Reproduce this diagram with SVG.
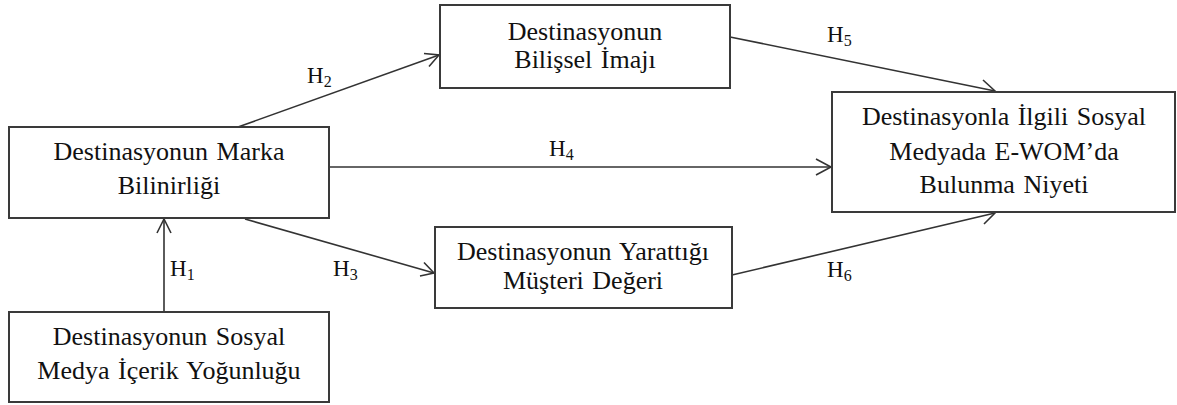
<svg xmlns="http://www.w3.org/2000/svg" width="1177" height="405" viewBox="0 0 1177 405">
<style>
.box{fill:#fff;stroke:#3a3a3a;stroke-width:2}
.t{font-family:"Liberation Serif","Times New Roman",serif;font-size:26px;fill:#111;text-anchor:middle;word-spacing:2px}
.h{font-family:"Liberation Serif","Times New Roman",serif;font-size:23px;fill:#111}
.s{font-size:16px}
.c{stroke:#333;stroke-width:1.6;fill:none}
.ah{stroke:#333;stroke-width:1.6;fill:none}
</style>
<rect width="1177" height="405" fill="#fff"/>
<g id="connectors">
<line class="c" x1="164" y1="312" x2="164" y2="219"/>
<polyline class="ah" points="157,233 164,219 171,233"/>
<line class="c" x1="238" y1="127" x2="439" y2="55"/>
<polyline class="ah" points="424,53.5 439,55 429,66.5"/>
<line class="c" x1="245" y1="219" x2="434" y2="273"/>
<polyline class="ah" points="424,262.5 434,273 420,276"/>
<line class="c" x1="329" y1="167" x2="831" y2="167"/>
<polyline class="ah" points="816,159 831,167 816,175"/>
<line class="c" x1="730" y1="37" x2="995" y2="91"/>
<polyline class="ah" points="983,80 995,91 980,94"/>
<line class="c" x1="732" y1="275" x2="995" y2="213"/>
<polyline class="ah" points="980,209.5 995,213 984,224"/>
</g>
<g id="labels">
<text class="h" x="307" y="83">H<tspan class="s" dy="4">2</tspan></text>
<text class="h" x="170" y="276">H<tspan class="s" dy="4">1</tspan></text>
<text class="h" x="333" y="276">H<tspan class="s" dy="4">3</tspan></text>
<text class="h" x="549" y="156">H<tspan class="s" dy="4">4</tspan></text>
<text class="h" x="827" y="42">H<tspan class="s" dy="4">5</tspan></text>
<text class="h" x="827" y="277">H<tspan class="s" dy="4">6</tspan></text>
</g>
<g id="node-marka">
<rect class="box" x="9" y="127" width="320" height="91"/>
<text class="t" x="169" y="160">Destinasyonun Marka</text>
<text class="t" x="169" y="194">Bilinirliği</text>
</g>
<g id="node-sosyal">
<rect class="box" x="9" y="312" width="320" height="90"/>
<text class="t" x="169" y="345">Destinasyonun Sosyal</text>
<text class="t" x="169" y="379">Medya İçerik Yoğunluğu</text>
</g>
<g id="node-bilissel">
<rect class="box" x="440" y="5" width="290" height="83"/>
<text class="t" x="585" y="40">Destinasyonun</text>
<text class="t" x="585" y="68">Bilişsel İmajı</text>
</g>
<g id="node-deger">
<rect class="box" x="435" y="227" width="297" height="81"/>
<text class="t" x="583" y="260">Destinasyonun Yarattığı</text>
<text class="t" x="583" y="289">Müşteri Değeri</text>
</g>
<g id="node-ewom">
<rect class="box" x="832" y="92" width="343" height="120"/>
<text class="t" x="1004" y="125">Destinasyonla İlgili Sosyal</text>
<text class="t" x="1004" y="160">Medyada E-WOM’da</text>
<text class="t" x="1004" y="193">Bulunma Niyeti</text>
</g>
</svg>
